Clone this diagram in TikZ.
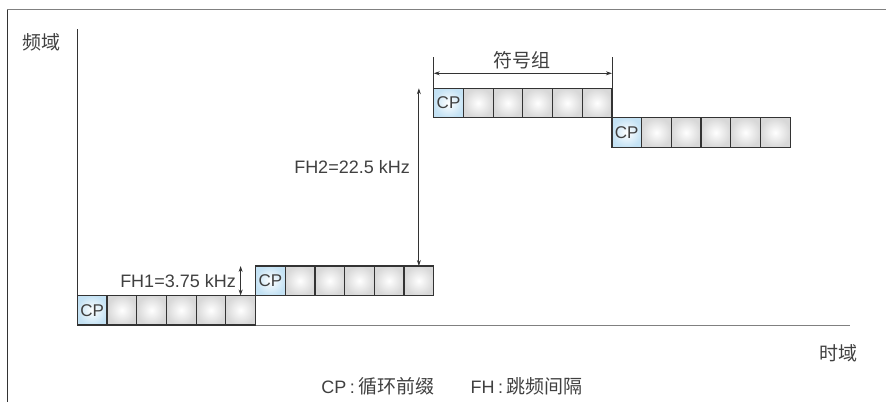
\documentclass[tikz,border=0pt]{standalone}
\usepackage{fontspec}
\setmainfont{Liberation Sans}
\newfontfamily\cjk{Noto Sans CJK SC}
\usetikzlibrary{arrows.meta}
\definecolor{txt}{HTML}{404040}
\definecolor{edge}{HTML}{333333}
\definecolor{cpblue}{HTML}{C4E2F4}
\definecolor{cellgray}{HTML}{D8D8D8}
\begin{document}
\begin{tikzpicture}[x=1pt,y=-1pt,
 cell/.style={draw=edge, line width=1.2pt, minimum width=29.7pt, minimum height=29.5pt, inner sep=0pt, outer sep=0pt, anchor=north west, inner color=white, outer color=cellgray},
 cpcell/.style={cell, outer color=cpblue, font=\fontsize{17}{17}\selectfont, text=txt},
 lbl/.style={text=txt, font=\fontsize{18}{18}\selectfont, inner sep=0pt},
 cjklbl/.style={text=txt, font=\cjk\fontsize{19}{19}\selectfont, inner sep=0pt},
 dim/.style={draw=edge, line width=0.8pt, {Stealth[length=6pt,width=4pt]}-{Stealth[length=6pt,width=4pt]}}
]
\useasboundingbox (0,0) rectangle (886,402);
% frame
\draw[gray, line width=1.5pt] (7,9.5) -- (886,9.5);
\draw[edge, line width=1pt] (7,9.5) -- (7,402);
% axes
\coordinate (yaxtop) at (77.3,29.3);
\coordinate (origin) at (77.3,325);
\coordinate (xend) at (850,325);
\draw[edge, line width=1pt] (yaxtop) -- (origin);
\draw[gray, line width=1pt] (origin) -- (xend);
% cells
\foreach \g/\x/\y in {1/77.3/295.5, 2/255.5/266, 3/433.7/88.3, 4/611.9/117.8} {
  \node[cpcell] (g\g c0) at (\x,\y) {CP};
  \foreach \i in {1,...,5} \node[cell] (g\g c\i) at (\x+\i*29.7,\y) {};
}
% FH1
\coordinate (fh1b) at (g1c5.north);
\coordinate (fh1t) at (g1c5.north |- g2c0.north);
\draw[dim] (fh1b) -- (fh1t);
\node[lbl, anchor=east] (fh1) at (236,280.7) {FH1=3.75 kHz};
% FH2
\coordinate (fh2b) at (g2c5.north);
\coordinate (fh2t) at (g2c5.north |- g3c0.north);
\draw[dim] (fh2b) -- (fh2t);
\node[lbl, anchor=east] (fh2) at (410,167) {FH2=22.5 kHz};
% symbol group
\coordinate (sgl) at ([yshift=31pt]g3c0.north west);
\coordinate (sgr) at ([yshift=31pt]g3c5.north east);
\coordinate (sgal) at ([yshift=15pt]g3c0.north west);
\coordinate (sgar) at ([yshift=15pt]g3c5.north east);
\draw[edge, line width=0.8pt] (g3c0.north west) -- (sgl);
\draw[edge, line width=0.8pt] (g3c5.north east) -- (sgr);
\draw[dim] (sgal) -- (sgar);
\node[cjklbl] (sg) at (522,60) {符号组};
% axis labels
\node[cjklbl] (fy) at (42,42) {频域};
\node[cjklbl] (ty) at (838,353) {时域};
\node[text=txt, font=\fontsize{18}{18}\selectfont, inner sep=0pt] (legend) at (452,386)
  {CP\hspace{0.2em}:\hspace{0.2em}{\cjk\fontsize{19}{19}\selectfont 循环前缀}\hspace{2em}FH\hspace{0.2em}:\hspace{0.2em}{\cjk\fontsize{19}{19}\selectfont 跳频间隔}};
\end{tikzpicture}
\end{document}
